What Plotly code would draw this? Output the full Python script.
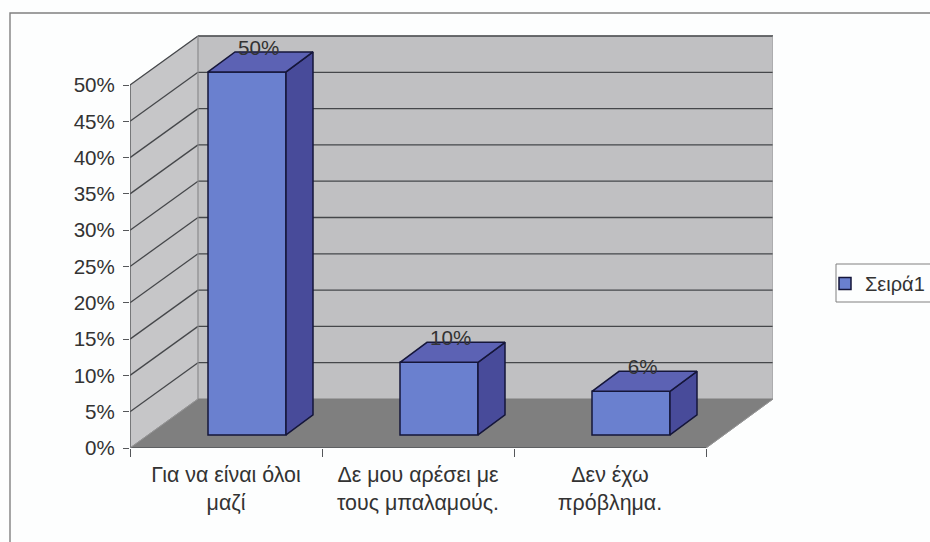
import plotly.graph_objects as go

categories = ["Για να είναι όλοι<br>μαζί", "Δε μου αρέσει με<br>τους μπαλαμούς.", "Δεν έχω<br>πρόβλημα."]
values = [50, 10, 6]
y_ticks = [0, 5, 10, 15, 20, 25, 30, 35, 40, 45, 50]
series_name = "Σειρά1"

W, H = 930, 542
L, R, T, B = 130, 773, 35, 448
CAT_PX = 192.0
VAL_PX = 7.26
n = len(categories)
xmin = -0.5
xmax = xmin + (R - L) / CAT_PX
ymax = (B - T) / VAL_PX
xfront = xmin + n
# depth of the 3D box in axis units
DX = 68 / CAT_PX
DY = 49 / VAL_PX
# bar placement
BW = 78 / CAT_PX
BX = 21 / CAT_PX
BASE = 1.8
SDX = 27 / CAT_PX
SDY = 20 / VAL_PX

TXT = "#333333"
WALL = "#c0c0c2"
SIDE = "#c6c6c8"
FLOOR = "#7f7f7f"
GRID = "#45474a"
FRONT = "#6a80cf"
TOP = "#5c62b4"
RIGHT = "#484b9a"
EDGE = "#15163a"


def poly(pts, fill, line=None, width=1):
    path = "M " + " L ".join(f"{a},{b}" for a, b in pts) + " Z"
    return dict(type="path", path=path, xref="x", yref="y", layer="below",
                fillcolor=fill, line=dict(color=line or fill, width=width))


def seg(x0, y0, x1, y1, color=GRID, width=1.3):
    return dict(type="line", x0=x0, y0=y0, x1=x1, y1=y1, xref="x", yref="y",
                layer="below", line=dict(color=color, width=width))


top = y_ticks[-1]
shapes = [
    dict(type="rect", xref="paper", yref="paper", x0=10 / W, x1=1.02, y0=-0.02, y1=1 - 13 / H,
         line=dict(color="#808080", width=1.4), layer="below"),
    dict(type="rect", xref="paper", yref="paper", x0=836 / W, x1=1.02, y0=1 - 302 / H, y1=1 - 264 / H,
         line=dict(color="#808080", width=1), layer="below"),
    poly([(xmin + DX, DY), (xmax, DY), (xmax, top + DY), (xmin + DX, top + DY)], WALL),
    poly([(xmin, 0), (xmin, top), (xmin + DX, top + DY), (xmin + DX, DY)], SIDE),
    poly([(xmin, 0), (xfront, 0), (xmax, DY), (xmin + DX, DY)], FLOOR),
]
for v in y_ticks[1:]:
    shapes.append(seg(xmin, v, xmin + DX, v + DY))
    shapes.append(seg(xmin + DX, v + DY, xmax, v + DY))
shapes += [
    seg(xmin + DX, DY, xmin + DX, top + DY, "#8a8a8c", 1.2),
    seg(xmax, DY, xmax, top + DY, "#9a9a9c", 1),
    seg(xmin, 0, xmin, top, "#55575a", 1.4),
    seg(xmin, 0, xfront, 0, "#55575a", 1.4),
    seg(xmin, 0, xmin + DX, DY, "#9a9a9c", 0.8),
    seg(xfront, 0, xmax, DY, "#9a9a9c", 0.8),
]

positions = [i + BX for i in range(n)]
fig = go.Figure()
fig.add_trace(go.Bar(
    x=positions, y=values, base=[BASE] * n, width=BW, name=series_name,
    marker=dict(color=FRONT, line=dict(color=EDGE, width=1.5)),
    hoverinfo="skip", showlegend=True,
))
for xc, v in zip(positions, values):
    x0, x1 = xc - BW / 2, xc + BW / 2
    y0, y1 = BASE, BASE + v
    fig.add_trace(go.Scatter(
        x=[x1, x1 + SDX, x1 + SDX, x1, x1], y=[y0, y0 + SDY, y1 + SDY, y1, y0],
        mode="lines", fill="toself", fillcolor=RIGHT, line=dict(color=EDGE, width=1.5),
        hoverinfo="skip", showlegend=False))
    fig.add_trace(go.Scatter(
        x=[x0, x1, x1 + SDX, x0 + SDX, x0], y=[y1, y1, y1 + SDY, y1 + SDY, y1],
        mode="lines", fill="toself", fillcolor=TOP, line=dict(color=EDGE, width=1.5),
        hoverinfo="skip", showlegend=False))
fig.add_trace(go.Scatter(
    x=[i + 0.17 for i in range(n)], y=[v + 4.9 for v in values],
    mode="text", text=[f"{v}%" for v in values],
    textposition="middle center", textfont=dict(size=20.6, color=TXT, family="Liberation Sans"),
    hoverinfo="skip", showlegend=False))

fig.update_layout(
    width=W, height=H, margin=dict(l=0, r=0, t=0, b=0, autoexpand=False),
    paper_bgcolor="#fdfefe", plot_bgcolor="rgba(0,0,0,0)",
    font=dict(family="Liberation Sans", size=20.6, color=TXT),
    shapes=shapes, barmode="overlay",
    xaxis=dict(domain=[L / W, R / W], range=[xmin, xmax], tickmode="array", automargin=False,
               tickvals=list(range(n)), ticktext=categories, ticks="", showgrid=False,
               zeroline=False, showline=False,
               minor=dict(tickmode="array", tickvals=[xmin + i for i in range(n + 1)], ticks="outside",
                          ticklen=8, tickwidth=1.3, tickcolor="#55575a", showgrid=False),
               tickfont=dict(size=21.4, color=TXT), ticklabelstandoff=12),
    yaxis=dict(domain=[1 - B / H, 1 - T / H], range=[0, ymax], tickmode="array", automargin=False,
               tickvals=y_ticks, ticktext=[f"{v}%" for v in y_ticks], ticks="outside",
               ticklen=6, tickwidth=1.3, tickcolor="#55575a", showgrid=False,
               zeroline=False, showline=False, ticklabelstandoff=4,
               tickfont=dict(size=20.6, color=TXT)),
    legend=dict(x=825 / W, y=1 - 264 / H, xanchor="left", yanchor="top",
                borderwidth=0, bgcolor="rgba(0,0,0,0)",
                font=dict(size=20, color=TXT), itemclick=False, itemdoubleclick=False),
    showlegend=True,
)
fig.write_html("out.html", config=dict(displayModeBar=False),
               default_width="930px", default_height="542px",
               post_script="document.body.style.margin='0';document.body.style.overflow='hidden';"
                           "document.documentElement.style.overflow='hidden';"
                           "document.body.style.width='930px';document.body.style.height='542px';"
                           "document.body.style.background='#fdfefe';")
